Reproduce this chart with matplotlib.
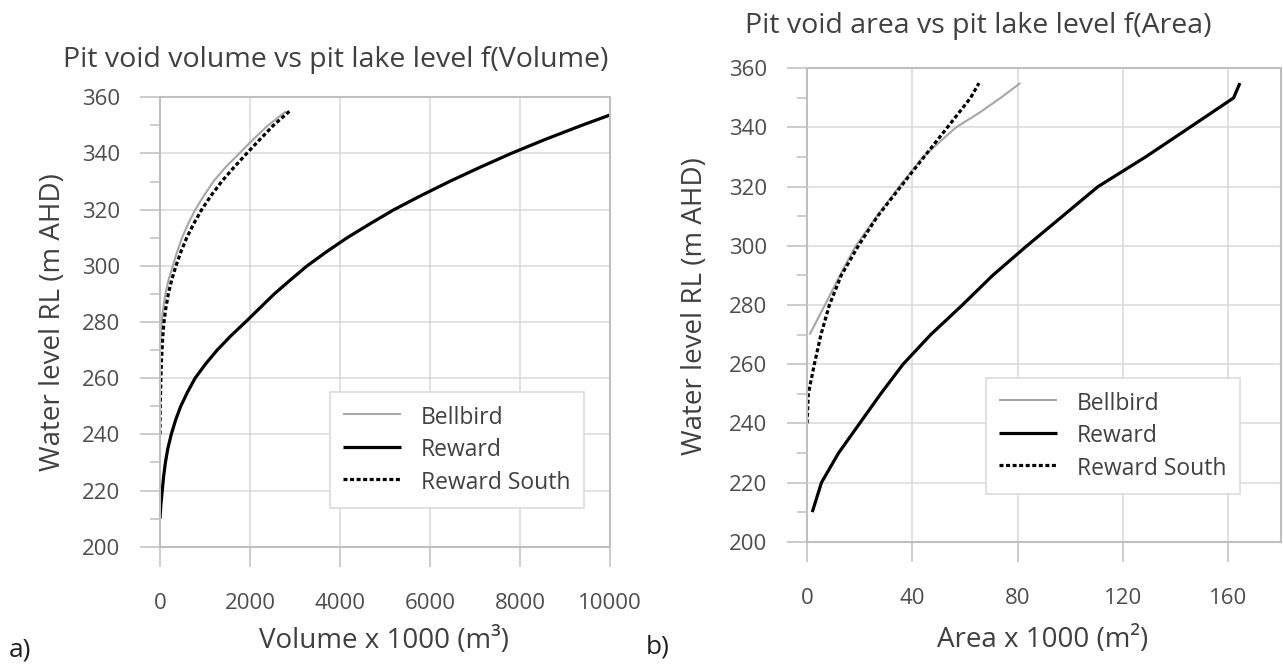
"""
Pit void storage curves: water level RL against void volume (a) and
lake surface area (b) for the Bellbird, Reward and Reward South pits.
"""

import matplotlib
matplotlib.use("Agg")
import matplotlib.pyplot as plt
from matplotlib.ticker import MultipleLocator

W_PX, H_PX = 1283, 664

plt.rcParams.update({
    "font.family":     ["Open Sans", "DejaVu Sans"],
    "font.size":       16,
    "axes.linewidth":  1.5,
    "axes.edgecolor":  "#bfbfbf",
    "xtick.color":     "#bfbfbf",
    "ytick.color":     "#bfbfbf",
    "xtick.labelcolor": "#4d4d4d",
    "ytick.labelcolor": "#4d4d4d",
})

TEXT_COL = "#404040"
GRID_COL = "#d9d9d9"
TICK_FS  = 16
LABEL_FS = 20
TITLE_FS = 20.5
LEG_FS   = 16.5

# ── (a) void volume, x1000 m3 ────────────────────────────────
VOL_BELLBIRD_RL = [270, 275, 280, 285, 290, 295, 300, 305, 310, 315, 320,
                   325, 330, 335, 340, 345, 350, 355]
VOL_BELLBIRD    = [0, 12, 38, 72, 120, 190, 285, 380, 490, 625, 785,
                   975, 1185, 1450, 1760, 2070, 2400, 2800]

VOL_REWARD_RL = [210, 215, 220, 225, 230, 235, 240, 245, 250, 255, 260,
                 265, 270, 275, 280, 285, 290, 295, 300, 305, 310, 315,
                 320, 325, 330, 335, 340, 345, 350, 353.7]
VOL_REWARD    = [0, 20, 50, 80, 120, 175, 250, 345, 460, 610, 780,
                 1010, 1270, 1570, 1900, 2220, 2540, 2900, 3270, 3700, 4160, 4670,
                 5200, 5800, 6430, 7100, 7800, 8560, 9370, 10000]

VOL_RSOUTH_RL = [240, 250, 260, 265, 270, 275, 280, 285, 290, 295, 300,
                 305, 310, 315, 320, 325, 330, 335, 340, 345, 350, 355]
VOL_RSOUTH    = [0, 5, 20, 30, 45, 63, 89, 130, 185, 260, 355,
                 465, 593, 750, 926, 1135, 1370, 1640, 1926, 2220, 2519, 2874]

# ── (b) lake surface area, x1000 m2 ──────────────────────────
AREA_BELLBIRD_RL = [270, 280, 290, 300, 310, 320, 330, 340, 345, 350, 355]
AREA_BELLBIRD    = [1, 6.8, 12.5, 18.5, 26.5, 35, 44, 56.5, 65.5, 73.5, 81]

AREA_REWARD_RL = [210, 220, 230, 240, 250, 260, 270, 280, 290, 300,
                  310, 320, 330, 340, 350, 355]
AREA_REWARD    = [2, 5.5, 12, 20, 28, 36.5, 47, 59, 70.5, 83.5,
                  97, 110.5, 128.5, 145.3, 162, 164.4]

AREA_RSOUTH_RL = [240, 250, 260, 270, 280, 290, 300, 310, 320, 330,
                  340, 350, 355]
AREA_RSOUTH    = [0, 0.5, 2.8, 5.3, 8.5, 13, 19.5, 26.8, 35.6, 44.4,
                  53.3, 62.1, 65.3]

VOL_TICKS  = [0, 2000, 4000, 6000, 8000, 10000]
AREA_TICKS = [0, 40, 80, 120, 160]
RL_TICKS   = [200, 220, 240, 260, 280, 300, 320, 340, 360]

SERIES_NAMES = ["Bellbird", "Reward", "Reward South"]


def px_box(x0, y_top, x1, y_bot):
    """Axes rectangle from pixel corners (origin top-left)."""
    return [x0 / W_PX, 1 - y_bot / H_PX, (x1 - x0) / W_PX, (y_bot - y_top) / H_PX]


def fig_xy(x, y):
    return x / W_PX, 1 - y / H_PX


def style_axes(ax, xticks, xmax):
    ax.set_xticks(xticks)
    ax.set_yticks(RL_TICKS)
    ax.yaxis.set_minor_locator(MultipleLocator(10))
    ax.set_xlim(0, xmax)
    ax.set_ylim(200, 360)
    ax.grid(True, which="major", color=GRID_COL, linewidth=1.1)
    ax.set_axisbelow(True)
    ax.tick_params(axis="y", which="major", length=14.4, width=1.1, pad=14)
    ax.tick_params(axis="y", which="minor", length=7.2, width=1.1)
    ax.tick_params(axis="x", which="major", length=14.4, width=1.1, pad=19)
    ax.tick_params(labelsize=TICK_FS)


def draw_curves(ax, bell, reward, south):
    ax.plot(bell[0], bell[1], color="#a6a6a6", linewidth=1.5,
            solid_capstyle="butt", label=SERIES_NAMES[0])
    ax.plot(reward[0], reward[1], color="black", linewidth=2.3,
            solid_capstyle="butt", solid_joinstyle="round", label=SERIES_NAMES[1])
    ax.plot(south[0], south[1], color="black", linewidth=2.3,
            dashes=(1.25, 0.8), dash_capstyle="butt", label=SERIES_NAMES[2])


def add_legend(ax, fig, x, y):
    leg = ax.legend(loc="upper left", bbox_to_anchor=fig_xy(x, y),
                    bbox_transform=fig.transFigure, borderaxespad=0,
                    fontsize=LEG_FS, handlelength=2.55, handleheight=1.2,
                    handletextpad=0.87, labelspacing=0.3, borderpad=0.56,
                    fancybox=False, framealpha=1, edgecolor=GRID_COL)
    leg.get_frame().set_linewidth(1.1)
    for txt in leg.get_texts():
        txt.set_color(TEXT_COL)
    return leg


def main():
    fig = plt.figure(figsize=(W_PX / 100, H_PX / 100), dpi=100)

    # ── (a) volume ───────────────────────────────────────────
    ax1 = fig.add_axes(px_box(160, 97.3, 610, 546.7))
    draw_curves(ax1, (VOL_BELLBIRD, VOL_BELLBIRD_RL),
                (VOL_REWARD, VOL_REWARD_RL), (VOL_RSOUTH, VOL_RSOUTH_RL))
    style_axes(ax1, VOL_TICKS, 10000)
    add_legend(ax1, fig, 330, 391.7)

    fig.text(*fig_xy(336, 66.7), "Pit void volume vs pit lake level f(Volume)",
             ha="center", va="baseline", fontsize=TITLE_FS, color=TEXT_COL)
    fig.text(*fig_xy(384, 648), "Volume x 1000 (m³)",
             ha="center", va="baseline", fontsize=LABEL_FS, color=TEXT_COL)
    fig.text(*fig_xy(53, 322), "Water level RL (m AHD)", rotation=90,
             ha="center", va="center", fontsize=LABEL_FS, color=TEXT_COL)
    fig.text(*fig_xy(20, 650), "a)", ha="center", va="center",
             fontsize=19, color="#202020")

    # ── (b) area ─────────────────────────────────────────────
    ax2 = fig.add_axes(px_box(807, 68.3, 1281, 541.7))
    draw_curves(ax2, (AREA_BELLBIRD, AREA_BELLBIRD_RL),
                (AREA_REWARD, AREA_REWARD_RL), (AREA_RSOUTH, AREA_RSOUTH_RL))
    style_axes(ax2, AREA_TICKS, 180)
    add_legend(ax2, fig, 986, 377.7)

    fig.text(*fig_xy(978, 33.3), "Pit void area vs pit lake level f(Area)",
             ha="center", va="baseline", fontsize=TITLE_FS, color=TEXT_COL)
    fig.text(*fig_xy(1043, 647), "Area x 1000 (m²)",
             ha="center", va="baseline", fontsize=LABEL_FS, color=TEXT_COL)
    fig.text(*fig_xy(695, 306), "Water level RL (m AHD)", rotation=90,
             ha="center", va="center", fontsize=LABEL_FS, color=TEXT_COL)
    fig.text(*fig_xy(658, 647), "b)", ha="center", va="center",
             fontsize=19, color="#202020")

    fig.savefig("out.png", dpi=100, facecolor="white")
    plt.close(fig)


if __name__ == "__main__":
    main()
